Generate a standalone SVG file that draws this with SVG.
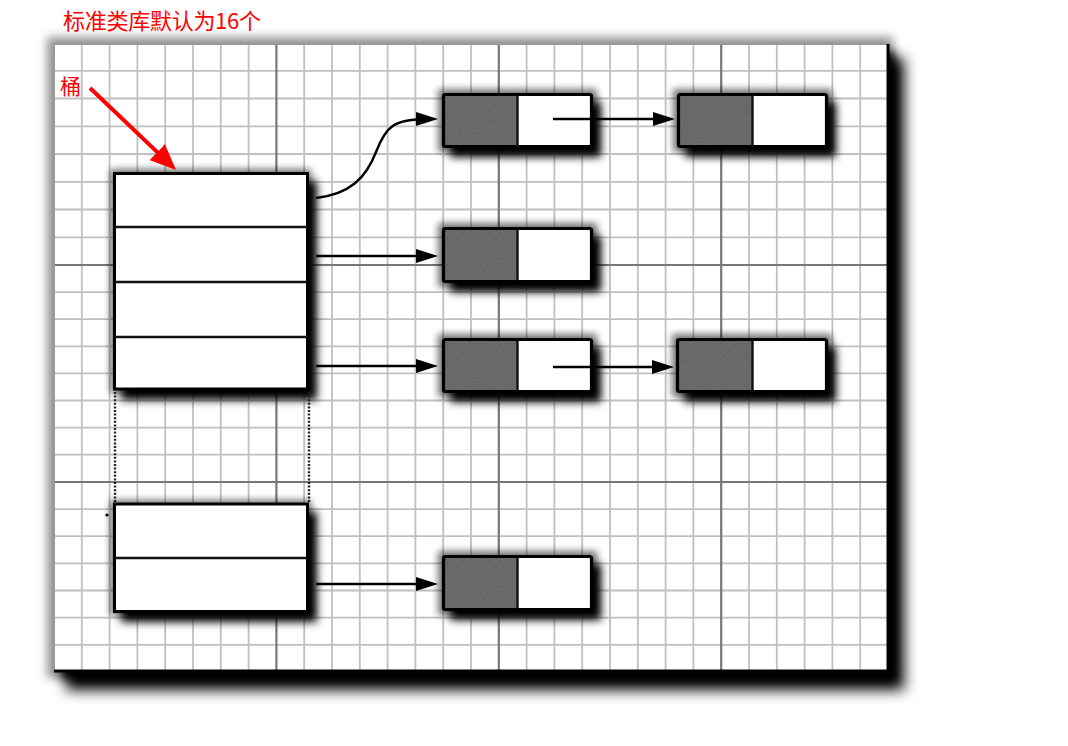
<svg xmlns="http://www.w3.org/2000/svg" width="1068" height="746" viewBox="0 0 1068 746">
<style>
.minor{stroke:#c0c0c0;stroke-width:1.8;fill:none}
.major{stroke:#777;stroke-width:2.2;fill:none}
.shd{fill:#000}
.halo{fill:#000;opacity:0.55}
.box{fill:#fff;stroke:#000;stroke-width:3}
.frame{fill:none;stroke:#000;stroke-width:3.2}
.div{stroke:#111;stroke-width:2.4}
.gray{fill:#727272}
.white{fill:#fff}
.dots{stroke:#222;stroke-width:2.4;stroke-dasharray:2 1.6;fill:none}
.conn{stroke:#000;stroke-width:2.4;fill:none;marker-end:url(#ah)}
.redline{stroke:#f00;stroke-width:4;fill:none;marker-end:url(#rah)}
.lbl{fill:#f00;font-family:"Noto Sans CJK SC","Noto Sans",sans-serif}
</style>
<defs>
<filter id="blurL" x="-10%" y="-10%" width="120%" height="120%"><feGaussianBlur stdDeviation="7"/></filter>
<filter id="blurM" x="-10%" y="-10%" width="120%" height="120%"><feGaussianBlur stdDeviation="5"/></filter>
<filter id="blurS" x="-30%" y="-30%" width="160%" height="160%"><feGaussianBlur stdDeviation="4.5"/></filter>
<filter id="blurH" x="-30%" y="-30%" width="160%" height="160%"><feGaussianBlur stdDeviation="3.5"/></filter>
<filter id="grain" x="0" y="0" width="100%" height="100%">
<feTurbulence type="fractalNoise" baseFrequency="0.9" numOctaves="2" seed="3" result="n"/>
<feColorMatrix in="n" type="matrix" values="0 0 0 0 0  0 0 0 0 0  0 0 0 0 0  0 0 0 0.5 -0.1" result="a"/>
<feComposite in="a" in2="SourceGraphic" operator="in" result="b"/>
<feMerge><feMergeNode in="SourceGraphic"/><feMergeNode in="b"/></feMerge>
</filter>
<marker id="ah" markerWidth="22" markerHeight="14" refX="12" refY="7" orient="auto" markerUnits="userSpaceOnUse"><path d="M0,0 L22,7 L0,14 z" fill="#000"/></marker>
<marker id="rah" markerWidth="26" markerHeight="22" refX="16" refY="11" orient="auto" markerUnits="userSpaceOnUse"><path d="M0,0 L26,11 L0,22 z" fill="#f00"/></marker>
</defs>

<g id="paper">
<rect x="47" y="37" width="846" height="641" fill="#666" opacity="0.7" filter="url(#blurM)"/>
<rect x="66" y="58" width="838" height="632" class="shd" filter="url(#blurL)"/>
<rect x="62" y="52" width="832" height="626" class="shd" filter="url(#blurM)"/>
<rect x="53" y="43" width="836" height="629" fill="#fff"/>
<path class="minor" d="M81.8 43V672M109.6 43V672M137.4 43V672M165.2 43V672M193 43V672M220.8 43V672M248.6 43V672M304.2 43V672M332 43V672M359.8 43V672M387.6 43V672M415.4 43V672M443.2 43V672M471 43V672M526.6 43V672M554.4 43V672M582.2 43V672M610 43V672M637.8 43V672M665.6 43V672M693.4 43V672M749 43V672M776.8 43V672M804.6 43V672M832.4 43V672M860.2 43V672"/>
<path class="minor" d="M53 70.8H889M53 98.5H889M53 126.3H889M53 154H889M53 181.8H889M53 209.5H889M53 237.3H889M53 292.1H889M53 319.2H889M53 346.3H889M53 373.4H889M53 400.5H889M53 427.6H889M53 454.7H889M53 509.1H889M53 536.2H889M53 563.4H889M53 590.5H889M53 617.7H889M53 644.8H889"/>
<path class="major" d="M276.4 43V672M498.8 43V672M721.2 43V672M53 265H889M53 482H889"/>
<path d="M54 672V44H889" fill="none" stroke="#999" stroke-width="2"/>
<path d="M888 44V671H54" fill="none" stroke="#000" stroke-width="3"/>
</g>

<g id="bucket-table">
<rect x="121" y="181" width="196" height="219" class="shd" filter="url(#blurS)"/>
<rect x="110" y="169" width="201" height="224" class="halo" filter="url(#blurH)"/>
<rect x="114.5" y="173.5" width="193" height="215.5" class="box"/>
<line x1="114.5" y1="227" x2="307.5" y2="227" class="div"/>
<line x1="114.5" y1="282" x2="307.5" y2="282" class="div"/>
<line x1="114.5" y1="337" x2="307.5" y2="337" class="div"/>
</g>

<g id="bucket-gap">
<line x1="115" y1="392" x2="115" y2="503" class="dots"/>
<line x1="309" y1="392" x2="309" y2="503" class="dots"/>
<circle cx="107" cy="515" r="1.6" fill="#000"/>
</g>

<g id="bucket-table-end">
<rect x="121" y="512" width="196" height="110" class="shd" filter="url(#blurS)"/>
<rect x="110" y="500" width="201" height="115" class="halo" filter="url(#blurH)"/>
<rect x="114.5" y="504" width="193" height="107.5" class="box"/>
<line x1="114.5" y1="558" x2="307.5" y2="558" class="div"/>
</g>

<g id="entry-1" transform="translate(442,93)">
<rect x="8" y="9" width="151" height="55" class="shd" filter="url(#blurS)"/>
<rect x="-4" y="-4" width="159" height="63" class="halo" filter="url(#blurH)"/>
<rect x="1.5" y="1.5" width="74" height="52" class="gray" filter="url(#grain)"/>
<rect x="75.5" y="1.5" width="74" height="52" class="white"/>
<rect x="1.5" y="1.5" width="148" height="52" rx="2" class="frame"/>
<line x1="75.5" y1="1.5" x2="75.5" y2="53.5" class="div"/>
</g>

<g id="entry-2" transform="translate(677,93)">
<rect x="8" y="9" width="151" height="55" class="shd" filter="url(#blurS)"/>
<rect x="-4" y="-4" width="159" height="63" class="halo" filter="url(#blurH)"/>
<rect x="1.5" y="1.5" width="74" height="52" class="gray" filter="url(#grain)"/>
<rect x="75.5" y="1.5" width="74" height="52" class="white"/>
<rect x="1.5" y="1.5" width="148" height="52" rx="2" class="frame"/>
<line x1="75.5" y1="1.5" x2="75.5" y2="53.5" class="div"/>
</g>

<g id="entry-3" transform="translate(442,227)">
<rect x="8" y="9" width="151" height="56" class="shd" filter="url(#blurS)"/>
<rect x="-4" y="-4" width="159" height="64" class="halo" filter="url(#blurH)"/>
<rect x="1.5" y="1.5" width="74" height="53" class="gray" filter="url(#grain)"/>
<rect x="75.5" y="1.5" width="74" height="53" class="white"/>
<rect x="1.5" y="1.5" width="148" height="53" rx="2" class="frame"/>
<line x1="75.5" y1="1.5" x2="75.5" y2="54.5" class="div"/>
</g>

<g id="entry-4" transform="translate(442,338)">
<rect x="8" y="9" width="151" height="55" class="shd" filter="url(#blurS)"/>
<rect x="-4" y="-4" width="159" height="63" class="halo" filter="url(#blurH)"/>
<rect x="1.5" y="1.5" width="74" height="52" class="gray" filter="url(#grain)"/>
<rect x="75.5" y="1.5" width="74" height="52" class="white"/>
<rect x="1.5" y="1.5" width="148" height="52" rx="2" class="frame"/>
<line x1="75.5" y1="1.5" x2="75.5" y2="53.5" class="div"/>
</g>

<g id="entry-5" transform="translate(676,338)">
<rect x="8" y="9" width="152" height="55" class="shd" filter="url(#blurS)"/>
<rect x="-4" y="-4" width="160" height="63" class="halo" filter="url(#blurH)"/>
<rect x="1.5" y="1.5" width="75" height="52" class="gray" filter="url(#grain)"/>
<rect x="76.5" y="1.5" width="74" height="52" class="white"/>
<rect x="1.5" y="1.5" width="149" height="52" rx="2" class="frame"/>
<line x1="76.5" y1="1.5" x2="76.5" y2="53.5" class="div"/>
</g>

<g id="entry-6" transform="translate(442,555)">
<rect x="8" y="9" width="151" height="56" class="shd" filter="url(#blurS)"/>
<rect x="-4" y="-4" width="159" height="64" class="halo" filter="url(#blurH)"/>
<rect x="1.5" y="1.5" width="74" height="53" class="gray" filter="url(#grain)"/>
<rect x="75.5" y="1.5" width="74" height="53" class="white"/>
<rect x="1.5" y="1.5" width="148" height="53" rx="2" class="frame"/>
<line x1="75.5" y1="1.5" x2="75.5" y2="54.5" class="div"/>
</g>

<g id="connectors">
<path class="conn" d="M316 198 C350 194, 366 178, 376 152 S394 119, 428 119"/>
<path class="conn" d="M316 256 H428"/>
<path class="conn" d="M316 366 H428"/>
<path class="conn" d="M316 584 H428"/>
<path class="conn" d="M553 119 H665"/>
<path class="conn" d="M553 367 H664"/>
</g>

<g id="annotations">
<text class="lbl" x="63" y="29" font-size="22" textLength="198" lengthAdjust="spacing">标准类库默认为16个</text>
<text class="lbl" x="60" y="94" font-size="21">桶</text>
<path class="redline" d="M90 88 L168.8 163.1"/>
</g>
</svg>
